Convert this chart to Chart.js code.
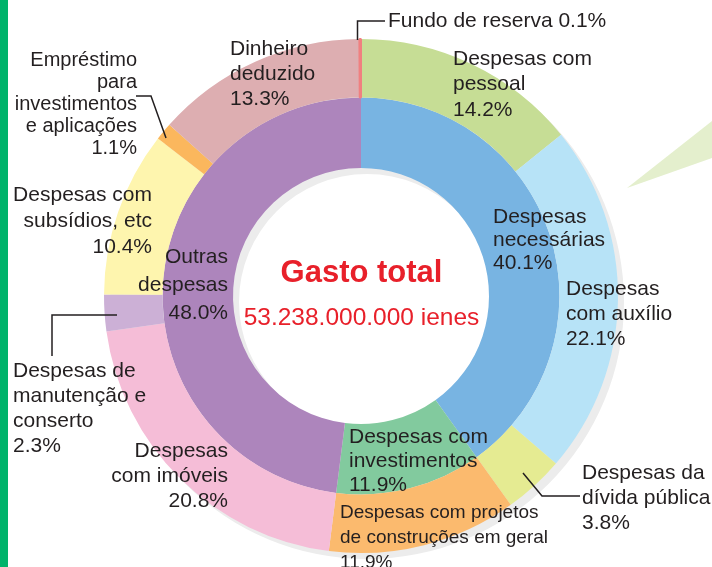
<!DOCTYPE html>
<html>
<head>
<meta charset="utf-8">
<script src="https://cdn.jsdelivr.net/npm/chart.js@4/dist/chart.umd.min.js"></script>
<style>
  html, body { margin: 0; padding: 0; background: #fff; }
  #c { display: block; }
</style>
</head>
<body>
<canvas id="c" width="712" height="567"></canvas>
<script>
// outer ring: detailed expense items (clockwise from top)
const outerLines = [
  ['Despesas com', 'pessoal'],
  ['Despesas', 'com auxílio'],
  ['Despesas da', 'dívida pública'],
  ['Despesas com projetos', 'de construções em geral'],
  ['Despesas', 'com imóveis'],
  ['Despesas de', 'manutenção e', 'conserto'],
  ['Despesas com', 'subsídios, etc'],
  ['Empréstimo', 'para', 'investimentos', 'e aplicações'],
  ['Dinheiro', 'deduzido'],
  ['Fundo de reserva'],
];
const outerValues = [14.2, 22.1, 3.8, 11.9, 20.8, 2.3, 10.4, 1.1, 13.3, 0.1];
const outerColors = ['#c6dd95', '#b7e3f7', '#e5eb92', '#fbba6e', '#f5bdd7',
                     '#ccb0d6', '#fef5ae', '#fbb75d', '#ddaeb1', '#f08080'];

// inner ring: groups
const innerLines = [
  ['Despesas', 'necessárias'],
  ['Despesas com', 'investimentos'],
  ['Outras', 'despesas'],
];
const innerValues = [40.1, 11.9, 48.0];
const innerColors = ['#78b4e2', '#82ca9e', '#ad85bc'];

const totalTitle = 'Gasto total';
const totalAmount = '53.238.000.000 ienes';

// where each label goes (x, first line centre y, align, line height, font px)
const outerPlace = [
  { x: 453, y: 59, align: 'left', lh: 25.5, fs: 21 },
  { x: 566, y: 289, align: 'left', lh: 25, fs: 21 },
  { x: 582, y: 473, align: 'left', lh: 25, fs: 21 },
  { x: 340, y: 513, align: 'left', lh: 25, fs: 19 },
  { x: 228, y: 451, align: 'right', lh: 25, fs: 21 },
  { x: 13, y: 371, align: 'left', lh: 25, fs: 21 },
  { x: 152, y: 195, align: 'right', lh: 26, fs: 21 },
  { x: 137, y: 60, align: 'right', lh: 22.2, fs: 20 },
  { x: 230, y: 49, align: 'left', lh: 25, fs: 21 },
  { x: 388, y: 21, align: 'left', lh: 25, fs: 21, inline: true },
];
const innerPlace = [
  { x: 493, y: 217, align: 'left', lh: 23, fs: 21 },
  { x: 349, y: 437, align: 'left', lh: 24, fs: 21 },
  { x: 228, y: 257, align: 'right', lh: 28, fs: 21 },
];
const leaders = [
  [[357.5, 40], [357.5, 21], [385, 21]],
  [[136, 96], [151, 96], [166, 138]],
  [[117, 315], [52, 315], [52, 356]],
  [[523, 473], [542, 496], [580, 496]],
];

const FONT = '"Liberation Sans", Arial, sans-serif';
const INK = '#231f20';

function drawBlock(ctx, lines, value, p) {
  ctx.font = `${p.fs}px ${FONT}`;
  ctx.textAlign = p.align;
  ctx.textBaseline = 'middle';
  ctx.fillStyle = INK;
  const pct = value.toFixed(1) + '%';
  const all = p.inline ? [lines[0] + ' ' + pct] : lines.concat([pct]);
  all.forEach((t, i) => ctx.fillText(t, p.x, p.y + i * p.lh));
}

const decor = {
  id: 'decor',
  beforeDatasetsDraw(chart) {
    const ctx = chart.ctx;
    const arc = chart.getDatasetMeta(0).data[0];
    const cx = arc.x, cy = arc.y, R = arc.outerRadius, r = chart.getDatasetMeta(1).data[0].innerRadius;
    ctx.save();
    // left green strip
    ctx.fillStyle = '#00b36b';
    ctx.fillRect(0, 0, 8, chart.height);
    // speech bubble tail
    ctx.fillStyle = '#e4efcd';
    ctx.beginPath();
    ctx.moveTo(627, 188);
    ctx.lineTo(712, 121);
    ctx.lineTo(712, 158);
    ctx.closePath();
    ctx.fill();
    // ring shadow
    ctx.fillStyle = '#ececec';
    ctx.beginPath();
    ctx.arc(cx + 6, cy + 6, R, 0, Math.PI * 2);
    ctx.arc(cx + 6, cy + 6, r, 0, Math.PI * 2, true);
    ctx.fill();
    ctx.restore();
  },
  afterDraw(chart) {
    const ctx = chart.ctx;
    const arc = chart.getDatasetMeta(0).data[0];
    ctx.save();
    outerLines.forEach((l, i) => drawBlock(ctx, l, outerValues[i], outerPlace[i]));
    innerLines.forEach((l, i) => drawBlock(ctx, l, innerValues[i], innerPlace[i]));

    ctx.strokeStyle = INK;
    ctx.lineWidth = 1.5;
    leaders.forEach(pts => {
      ctx.beginPath();
      pts.forEach(([x, y], i) => i ? ctx.lineTo(x, y) : ctx.moveTo(x, y));
      ctx.stroke();
    });

    // centre text
    ctx.fillStyle = '#e8202a';
    ctx.textAlign = 'center';
    ctx.textBaseline = 'middle';
    ctx.font = `bold 31px ${FONT}`;
    ctx.fillText(totalTitle, arc.x + 0.5, 273);
    ctx.font = `24.5px ${FONT}`;
    ctx.fillText(totalAmount, arc.x + 0.5, 318);
    ctx.restore();
  },
};

new Chart(document.getElementById('c'), {
  type: 'doughnut',
  data: {
    labels: outerLines.map(l => l.join(' ')),
    datasets: [
      { data: outerValues, backgroundColor: outerColors, weight: 59,
        borderWidth: outerValues.map(v => v < 0.5 ? 2 : 0),
        borderColor: outerColors },
      { data: innerValues, backgroundColor: innerColors, weight: 71, borderWidth: 0 },
    ],
  },
  options: {
    responsive: false,
    devicePixelRatio: 1,
    animation: false,
    cutout: 128,
    layout: { padding: { left: 103, top: 38, right: 93, bottom: 13 } },
    plugins: { legend: { display: false }, tooltip: { enabled: false } },
  },
  plugins: [decor],
});
</script>
</body>
</html>
